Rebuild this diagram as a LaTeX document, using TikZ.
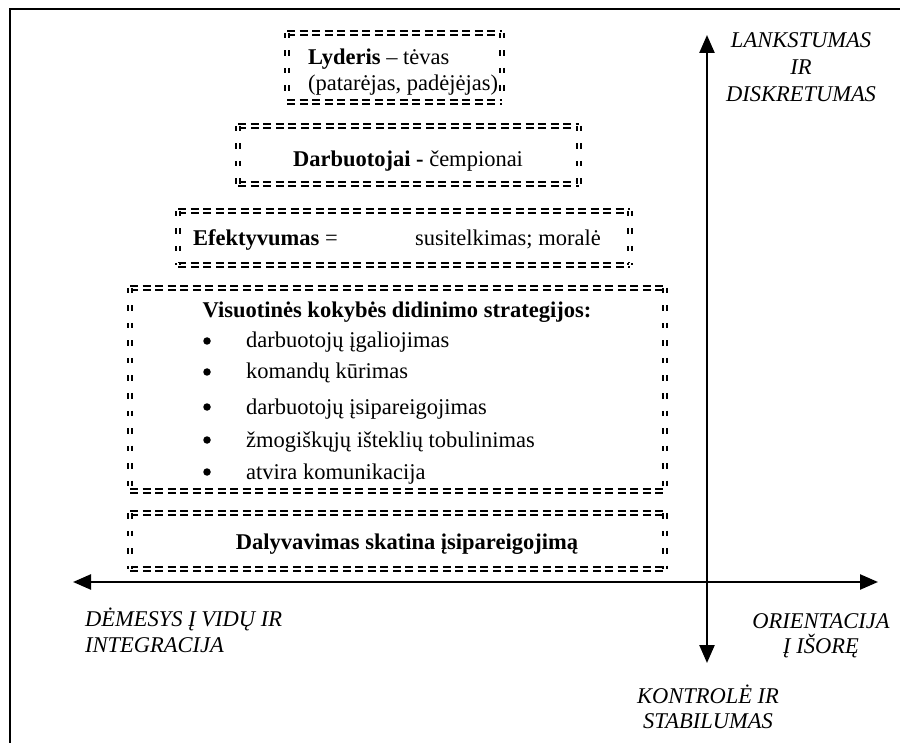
\documentclass[tikz,border=0pt]{standalone}
\usepackage{fontspec}
\setmainfont{Liberation Serif}
\usetikzlibrary{arrows.meta}
\tikzset{
  hside/.style={line width=2.1pt, double=white, double distance=1.6pt, dash pattern=on 8pt off 4.5pt},
  vside/.style={line width=2pt, double=white, double distance=1.6pt, dash pattern=on 5.5pt off 12pt},
  axisline/.style={line width=2.4pt, {Triangle[length=18pt,width=15pt]}-{Triangle[length=18pt,width=15pt]}},
  frameline/.style={line width=2.4pt},
  txt/.style={inner sep=0pt, font=\fontsize{22.5}{26}\selectfont},
  bulletmark/.style={circle, fill=black, inner sep=0pt, minimum size=7.5pt},
  axtxt/.style={inner sep=0pt, font=\fontsize{22.5}{26}\selectfont\itshape},
}
% double dashed box: left, top, right, bottom
\newcommand{\ddbox}[4]{%
  \draw[hside] (#1,#2) -- (#3,#2);
  \draw[hside] (#1,#4) -- (#3,#4);
  \draw[vside] (#1,#2) -- (#1,#4);
  \draw[vside] (#3,#2) -- (#3,#4);
}
\begin{document}
\begin{tikzpicture}[x=1pt,y=-1pt]
\useasboundingbox (0,0) rectangle (900,743);
% outer frame (top and left edges)
\draw[frameline] (10,743) -- (10,9) -- (900,9);

% stacked boxes
\ddbox{287}{33}{502}{102}
\ddbox{238}{126}{579}{184}
\ddbox{178}{211}{630}{265}
\ddbox{130}{288}{665}{491}
\ddbox{130}{513}{665}{569}

% box texts
\node[txt, anchor=base west] (lyd1) at (308,65) {\textbf{Lyderis} – tėvas};
\node[txt, anchor=base west] (lyd2) at (308,91) {(patarėjas, padėjėjas)};
\node[txt, anchor=base] (darb) at (408,167) {\textbf{Darbuotojai -} čempionai};
\node[txt, anchor=base west] (efk1) at (193,246) {\textbf{Efektyvumas} =};
\node[txt, anchor=base west] (efk2) at (415,246) {susitelkimas; moralė};
\node[txt, anchor=base] (vis) at (397,318) {\textbf{Visuotinės kokybės didinimo strategijos:}};
\foreach \yy/\tx [count=\i] in {348/darbuotojų įgaliojimas, 379/komandų kūrimas, 414/darbuotojų įsipareigojimas, 447/žmogiškųjų išteklių tobulinimas, 479/atvira komunikacija}{
  \node[bulletmark] (bul\i) at (207,\yy-7) {};
  \node[txt, anchor=base west] (item\i) at (246,\yy) {\tx};
}
\node[txt, anchor=base] (daly) at (407,549) {\textbf{Dalyvavimas skatina įsipareigojimą}};

% axes
\coordinate (W) at (73,582);
\coordinate (E) at (878,582);
\coordinate (N) at (707,35);
\coordinate (S) at (707,663);
\draw[axisline] (W) -- (E);
\draw[axisline] (S) -- (N);

% axis labels
\node[axtxt, anchor=base] (n1) at (801,48) {LANKSTUMAS};
\node[axtxt, anchor=base] (n2) at (801,75) {IR};
\node[axtxt, anchor=base] (n3) at (801,102) {DISKRETUMAS};
\node[axtxt, anchor=base west] (w1) at (85,626) {DĖMESYS Į VIDŲ IR};
\node[axtxt, anchor=base west] (w2) at (85,652) {INTEGRACIJA};
\node[axtxt, anchor=base] (e1) at (821,628) {ORIENTACIJA};
\node[axtxt, anchor=base] (e2) at (821,653) {Į IŠORĘ};
\node[axtxt, anchor=base] (s1) at (708,703) {KONTROLĖ IR};
\node[axtxt, anchor=base] (s2) at (708,728) {STABILUMAS};
\end{tikzpicture}
\end{document}
